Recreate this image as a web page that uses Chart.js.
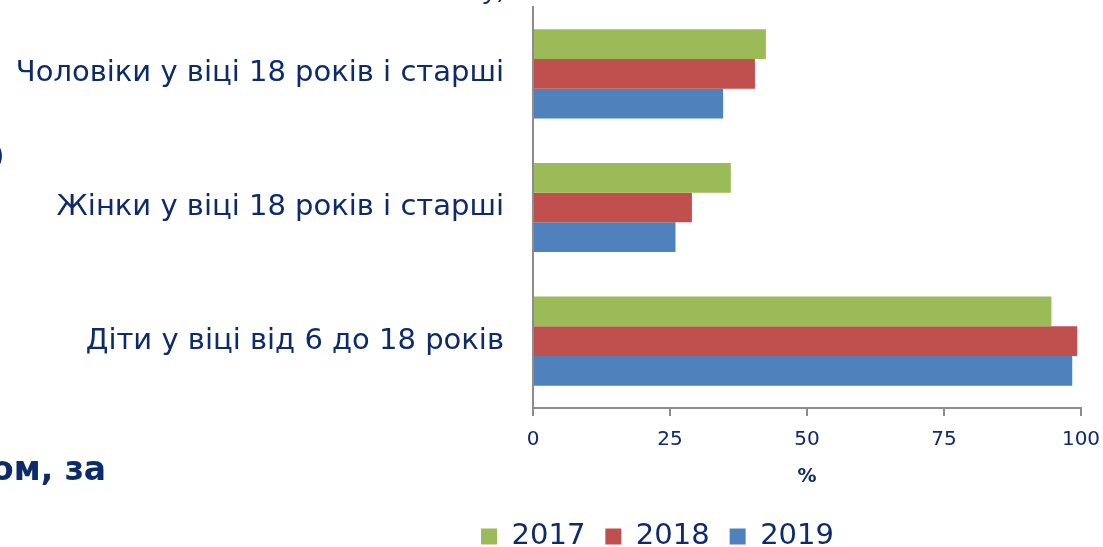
<!DOCTYPE html>
<html>
<head>
<meta charset="utf-8">
<script src="https://cdn.jsdelivr.net/npm/chart.js@4.4.1/dist/chart.umd.min.js"></script>
<style>
  html, body { margin: 0; padding: 0; background: #fff; }
  #wrap { position: relative; width: 1103px; height: 547px; overflow: hidden; }
  .frag { position: absolute; color: #0d2a6b; font-family: "DejaVu Sans", Verdana, sans-serif; white-space: nowrap; }
</style>
</head>
<body>
<div id="wrap">
  <canvas id="chart" width="1103" height="547"></canvas>
  <!-- bits of the slide text around the chart -->
  <span class="frag" style="left:484px; top:-26px; font-size:26px; font-style:italic;">у)</span>
  <span class="frag" style="left:-6px; top:140px; font-size:26px;">)</span>
  <span class="frag" style="left:-9px; top:449px; font-size:33px; font-weight:bold;">ом, за</span>
</div>
<script>
const categories = ['Чоловіки у віці 18 років і старші', 'Жінки у віці 18 років і старші', 'Діти у віці від 6 до 18 років'];
const years = ['2017', '2018', '2019'];
const values2017 = [42.5, 36.1, 94.6];
const values2018 = [40.5, 29.0, 99.3];
const values2019 = [34.7, 26.0, 98.4];
const xTicks = [0, 25, 50, 75, 100];

const navy = '#0d2a6b';
const axisGray = '#8c8c8c';

// move the legend to where it sits in the original
const legendShift = {
    id: 'legendShift',
    afterLayout(chart) {
        const lg = chart.legend;
        lg.left += 117; lg.right += 117;
        lg.top += 14; lg.bottom += 14;
    }
};

const ctx = document.getElementById('chart').getContext('2d');
new Chart(ctx, {
    type: 'bar',
    data: {
        labels: categories,
        datasets: [
            { label: years[0], data: values2017, backgroundColor: '#9BBB59' },
            { label: years[1], data: values2018, backgroundColor: '#C0504D' },
            { label: years[2], data: values2019, backgroundColor: '#4F81BD' }
        ]
    },
    options: {
        indexAxis: 'y',
        responsive: false,
        animation: false,
        layout: { padding: { top: 7, right: 22, left: 0, bottom: 0 } },
        datasets: { bar: { categoryPercentage: 0.667, barPercentage: 1.0 } },
        scales: {
            x: {
                min: 0, max: 100,
                afterBuildTicks: (scale) => { scale.ticks = xTicks.map(v => ({ value: v })); },
                afterFit: (scale) => {
                    scale.height = 547 - 408 - scale.chart.legend.height;
                    scale.paddingLeft = 0; scale.paddingRight = 0;
                },
                border: { color: axisGray, width: 2 },
                grid: { drawOnChartArea: false, drawTicks: true, tickLength: 8, color: axisGray, lineWidth: 2 },
                ticks: { color: navy, padding: 12, font: { family: 'DejaVu Sans', size: 20 }, maxRotation: 0 },
                title: { display: true, text: '%', color: navy, padding: { top: 0, bottom: 0 }, font: { family: 'DejaVu Sans', size: 19, weight: 'bold' } }
            },
            y: {
                afterFit: (scale) => {
                    scale.width = 533;
                    scale.paddingTop = 0; scale.paddingBottom = 0;
                },
                border: { color: axisGray, width: 2 },
                grid: { display: false },
                ticks: { color: navy, padding: 21, font: { family: 'DejaVu Sans', size: 29 } }
            }
        },
        plugins: {
            legend: {
                position: 'bottom',
                labels: {
                    color: navy,
                    boxWidth: 16, boxHeight: 16,
                    padding: 20,
                    font: { family: 'DejaVu Sans', size: 29 }
                }
            },
            tooltip: { enabled: false }
        }
    },
    plugins: [legendShift]
});
</script>
</body>
</html>
